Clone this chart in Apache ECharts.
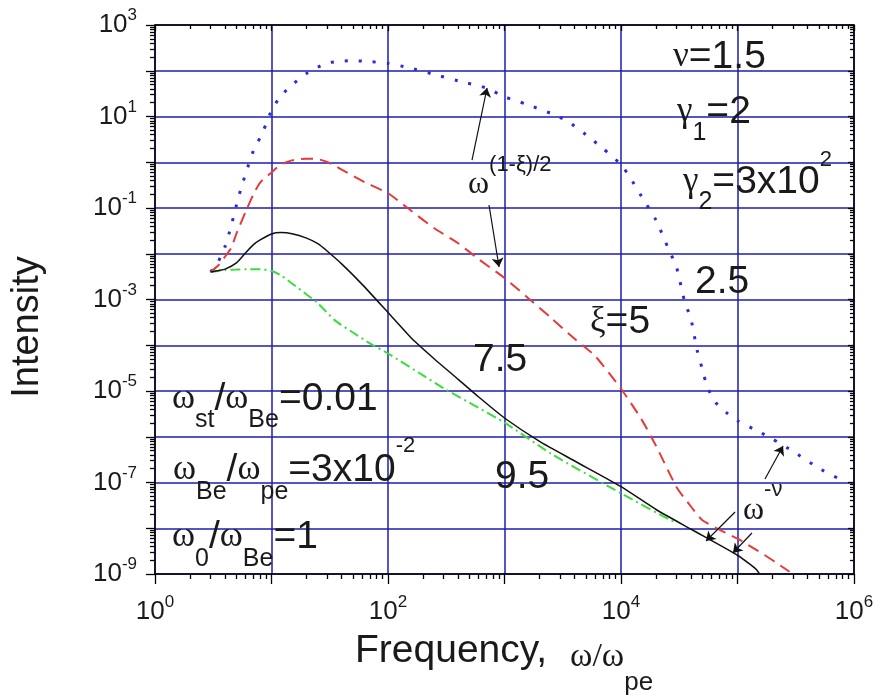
<!DOCTYPE html>
<html>
<head>
<meta charset="utf-8">
<script src="https://cdn.jsdelivr.net/npm/echarts@6.0.0/dist/echarts.min.js"></script>
<style>
  html, body { margin: 0; background: #fff; }
  #chart { width: 880px; height: 699px; }
</style>
</head>
<body>
<div id="chart"></div>
<script>
// spectra: frequency (omega/omega_pe) and intensity
const freqXi25 = [3, 3.5, 4, 4.5, 5, 5.5, 6, 7, 8, 9, 10, 12, 15, 20, 25, 30, 40, 50, 70, 100, 150, 250, 400, 700, 1000, 1500, 2500, 3500, 5000, 7000, 1e4, 1.2e4, 1.5e4, 2e4, 2.5e4, 3e4, 3.5e4, 4e4, 4.5e4, 5e4, 5.5e4, 6.5e4, 8e4, 1e5, 1.5e5, 2e5, 3e5, 5e5, 8e5];
const intXi25 = [4.0e-3, 6.8e-3, 1.45e-2, 0.040, 0.115, 0.28, 0.56, 1.8, 3.5, 6.9, 13.5, 28, 49, 87, 120, 148, 162, 166, 158, 145, 117, 83, 60, 42, 27, 19, 11.7, 7.8, 4.0, 2.0, 0.89, 0.46, 0.18, 0.054, 0.0145, 5.0e-3, 9.5e-4, 3.6e-4, 7.8e-5, 2.95e-5, 1.23e-5, 5.6e-6, 3.4e-6, 2.24e-6, 1.32e-6, 8.9e-7, 4.8e-7, 2.04e-7, 1.1e-7];

const freqXi5 = [3, 3.5, 4, 4.5, 5, 6, 7, 8, 10, 12, 15, 20, 25, 30, 40, 60, 100, 160, 250, 400, 600, 1000, 1600, 2500, 4000, 6000, 1e4, 1.5e4, 2e4, 3e4, 4e4, 5e4, 7e4, 1e5, 1.5e5, 2e5, 2.8e5];
const intXi5 = [4.0e-3, 5.6e-3, 8.7e-3, 1.32e-2, 2.75e-2, 0.083, 0.20, 0.36, 0.60, 0.89, 1.10, 1.20, 1.17, 1.02, 0.69, 0.39, 0.21, 0.085, 0.036, 0.017, 7.6e-3, 2.95e-3, 1.07e-3, 4.0e-4, 1.38e-4, 5.8e-5, 1.12e-5, 2.4e-6, 6.3e-7, 7.9e-8, 2.95e-8, 1.5e-8, 9.3e-9, 5.9e-9, 3.2e-9, 2.0e-9, 1.12e-9];

const freqXi75 = [3, 3.5, 4, 5, 6, 7, 8, 10, 12, 15, 20, 25, 30, 40, 60, 100, 160, 250, 400, 600, 1000, 2000, 4000, 1e4, 2e4, 4e4, 1e5, 1.3e5, 1.45e5, 1.55e5];
const intXi75 = [4.0e-3, 4.3e-3, 4.6e-3, 6.3e-3, 0.0105, 0.0158, 0.020, 0.027, 0.029, 0.0275, 0.022, 0.0166, 0.0115, 6.0e-3, 2.14e-3, 5.2e-4, 1.4e-4, 5.0e-5, 1.8e-5, 7.4e-6, 2.57e-6, 7.9e-7, 2.95e-7, 8.1e-8, 2.57e-8, 9.5e-9, 2.57e-9, 1.58e-9, 1.26e-9, 1.0e-9];

const freqXi95 = [3, 4, 5, 6.5, 8, 10, 12, 15, 20, 25, 35, 50, 70, 100, 200, 300, 1000, 2500, 1e4, 2.6e4, 3e4];
const intXi95 = [4.0e-3, 4.4e-3, 4.5e-3, 4.6e-3, 4.6e-3, 4.2e-3, 3.4e-3, 2.24e-3, 1.29e-3, 8.3e-4, 3.5e-4, 1.9e-4, 1.1e-4, 6.6e-5, 2.19e-5, 1.15e-5, 2.04e-6, 4.3e-7, 5.8e-8, 1.55e-8, 1.32e-8];

// axis decades (log10) and labelled decades
const xExpMin = 0, xExpMax = 6;
const yExpMin = -9, yExpMax = 3;
const xLabelExps = [0, 2, 4, 6];
const yLabelExps = [-9, -7, -5, -3, -1, 1, 3];

// arrows: [from, to] in (log10 freq, log10 intensity)
const arrows = [
    [[2.721, 0.049], [2.850, 1.623]],
    [[2.867, -0.934], [2.953, -2.290]],
    [[5.236, -6.923], [5.391, -6.202]],
    [[4.979, -7.645], [4.730, -8.279]],
    [[5.124, -8.104], [4.961, -8.541]]
];

const SANS = "'Liberation Sans', Arial, sans-serif";
const SERIF = "'Liberation Serif', 'Times New Roman', serif";
const GRID_BLUE = '#1c1cb0';
const INK = '#1a1a1a';

const toPairs = (f, v) => f.map((x, i) => [Math.log10(x), Math.log10(v[i])]);

const xMinor = [], yMinor = [];
for (let d = xExpMin; d < xExpMax; d++) for (let k = 2; k <= 9; k++) xMinor.push(d + Math.log10(k));
for (let d = yExpMin; d < yExpMax; d++) for (let k = 2; k <= 9; k++) yMinor.push(d + Math.log10(k));

const frame = { onZero: false, lineStyle: { color: '#000', width: 1.5 } };
const tickStyle = { color: '#000', width: 1.3 };
const labelRich = {
    b: { fontSize: 26, fontFamily: SANS, color: INK, lineHeight: 36 },
    s: { fontSize: 17, fontFamily: SANS, color: INK, lineHeight: 12, verticalAlign: 'top' }
};

function axisSet(isX) {
    const min = isX ? xExpMin : yExpMin, max = isX ? xExpMax : yExpMax;
    const minor = isX ? xMinor : yMinor;
    const labels = isX ? xLabelExps : yLabelExps;
    const near = isX ? 'bottom' : 'left', far = isX ? 'top' : 'right';
    const base = { type: 'value', min, max };
    return [
        Object.assign({}, base, {
            position: near, interval: 1, axisLine: frame,
            axisTick: { inside: false, length: isX ? 10 : 9, lineStyle: tickStyle },
            splitLine: { show: true, lineStyle: { color: GRID_BLUE, width: 1.5 } },
            axisLabel: {
                margin: isX ? 20 : 18,
                formatter: v => labels.includes(Math.round(v)) ? `{b|10}{s|${Math.round(v)}}` : '',
                rich: labelRich
            }
        }),
        Object.assign({}, base, {
            position: near, axisLine: { show: false, onZero: false },
            axisTick: { customValues: minor, inside: false, length: 5, lineStyle: tickStyle },
            axisLabel: { show: false }, splitLine: { show: false }
        }),
        Object.assign({}, base, {
            position: far, interval: 1, axisLine: frame,
            axisTick: { inside: true, length: 6, lineStyle: tickStyle },
            axisLabel: { show: false }, splitLine: { show: false }
        }),
        Object.assign({}, base, {
            position: far, axisLine: { show: false, onZero: false },
            axisTick: { customValues: minor, inside: true, length: 4, lineStyle: tickStyle },
            axisLabel: { show: false }, splitLine: { show: false }
        })
    ];
}

// annotation text: main line centred at y, subscripts pushed down by sub px, superscripts up by sup px
function note(x, y, text, sub, sup, sizes) {
    const s = Object.assign({ m: 39, g: 35, sb: 25, sp: 22 }, sizes || {});
    const L = 2 * Math.max(sub || 0, sup || 0) + 24;
    return {
        type: 'text', x, y, z: 100, silent: true,
        style: {
            text, fill: INK, align: 'left', verticalAlign: 'middle',
            rich: {
                m: { fontSize: s.m, fontFamily: SANS, fill: INK, lineHeight: L, verticalAlign: 'middle' },
                g: { fontSize: s.g, fontFamily: SERIF, fill: INK, lineHeight: L, verticalAlign: 'middle' },
                sb: { fontSize: s.sb, fontFamily: SANS, fill: INK, lineHeight: L - 2 * (sub || 0), verticalAlign: 'bottom' },
                sp: { fontSize: s.sp, fontFamily: SANS, fill: INK, lineHeight: L - 2 * (sup || 0), verticalAlign: 'top' }
            }
        }
    };
}

const chart = echarts.init(document.getElementById('chart'), null, { renderer: 'canvas' });

const curveStyle = { type: 'line', showSymbol: false, smooth: 0.2, z: 3 };

chart.setOption({
    animation: false,
    backgroundColor: '#fff',
    grid: { left: 155, top: 25, right: 26, bottom: 125, containLabel: false },
    xAxis: axisSet(true),
    yAxis: axisSet(false),
    series: [
        Object.assign({}, curveStyle, {
            name: 'xi=2.5', data: toPairs(freqXi25, intXi25),
            lineStyle: { color: '#2b2bdc', width: 3, type: [3, 11], cap: 'butt' }
        }),
        Object.assign({}, curveStyle, {
            name: 'xi=5', data: toPairs(freqXi5, intXi5),
            lineStyle: { color: '#e63a3a', width: 2, type: [12, 7] }
        }),
        Object.assign({}, curveStyle, {
            name: 'xi=9.5', data: toPairs(freqXi95, intXi95),
            lineStyle: { color: '#3ddc3d', width: 2, type: [10, 4, 2, 4] }
        }),
        Object.assign({}, curveStyle, {
            name: 'xi=7.5', data: toPairs(freqXi75, intXi75), z: 4,
            lineStyle: { color: '#111', width: 1.5 }
        }),
        {
            name: 'arrows', type: 'line', data: [], z: 5,
            markLine: {
                silent: true, animation: false,
                symbol: ['none', 'arrow'], symbolSize: 9,
                label: { show: false },
                lineStyle: { color: '#111', width: 1.2, type: 'solid' },
                emphasis: { disabled: true },
                data: arrows.map(a => [{ coord: a[0] }, { coord: a[1] }])
            }
        }
    ],
    graphic: [
        {
            type: 'text', x: 28, y: 327, rotation: Math.PI / 2, z: 100, silent: true,
            style: { text: 'Intensity', fontSize: 38, fontFamily: SANS, fill: INK, align: 'center', verticalAlign: 'middle' }
        },
        note(355, 651, '{m|Frequency,}', 0, 0, { m: 39 }),
        note(570, 657, '{g|ω/ω}{sb|pe}', 27, 0, { g: 34, sb: 26 }),
        note(673, 57, '{g|ν}{m|=1.5}', 0, 0),
        note(677, 112, '{g|γ}{sb|1}{m|=2}', 22, 0),
        note(683, 182, '{g|γ}{sb|2}{m|=3x10}{sp|2}', 21, 20),
        note(695, 282, '{m|2.5}', 0, 0),
        note(590, 322, '{g|ξ}{m|=5}', 0, 0),
        note(473, 360, '{m|7.5}', 0, 0),
        note(495, 477, '{m|9.5}', 0, 0),
        note(468, 185, '{g|ω}{sp|(1-ξ)/2}', 0, 19, { g: 32 }),
        note(743, 511, '{g|ω}{sp|-ν}', 0, 20, { g: 32 }),
        note(172, 399, '{g|ω}{sb|st}{m|/}{g|ω}{sb|Be}{m|=0.01}', 22, 0),
        note(173, 470, '{g|ω}{sb|Be}{m|/}{g|ω}{sb|pe}{m|=3x10}{sp|-2}', 23, 17),
        note(172, 537, '{g|ω}{sb|0}{m|/}{g|ω}{sb|Be}{m|=1}', 23, 0)
    ]
});
</script>
</body>
</html>
